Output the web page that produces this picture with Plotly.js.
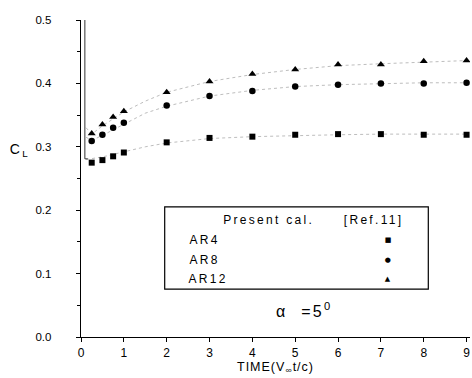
<!DOCTYPE html>
<html>
<head>
<meta charset="utf-8">
<script src="https://cdn.plot.ly/plotly-3.0.1.min.js"></script>
<style>
html,body{margin:0;padding:0;background:#fff;}
#plot .annotation-text{letter-spacing:2.3px;}
#plot .xtitle{letter-spacing:1px;}
</style>
</head>
<body>
<div id="plot" style="width:472px;height:378px;"></div>
<script>
// Reference data [Ref.11] (markers)
const refTime = [0.25, 0.5, 0.75, 1, 2, 3, 4, 5, 6, 7, 8, 9];
const refAR4  = [0.275, 0.279, 0.285, 0.291, 0.307, 0.314, 0.316, 0.319, 0.320, 0.320, 0.319, 0.319];
const refAR8  = [0.309, 0.319, 0.330, 0.338, 0.365, 0.380, 0.388, 0.395, 0.398, 0.400, 0.400, 0.401];
const refAR12 = [0.321, 0.335, 0.347, 0.356, 0.386, 0.403, 0.415, 0.422, 0.430, 0.430, 0.435, 0.436];

// Present calculation (faint dotted curves)
const calTime  = [0.12, 0.25, 0.5, 1, 1.5, 2, 3, 4, 5, 6, 7, 8, 9];
const calAR4   = [0.280, 0.281, 0.284, 0.292, 0.300, 0.306, 0.313, 0.316, 0.318, 0.319, 0.320, 0.320, 0.320];
const calAR8   = [0.315, 0.310, 0.318, 0.335, 0.353, 0.364, 0.380, 0.389, 0.395, 0.398, 0.400, 0.401, 0.401];
const calAR12  = [0.330, 0.320, 0.333, 0.355, 0.372, 0.386, 0.403, 0.414, 0.422, 0.428, 0.431, 0.434, 0.436];
// impulsive-start spike of the present calculation
const spikeTime = [0.09, 0.09, 0.16];
const spikeCL   = [0.5, 0.281, 0.281];

const yTicks = [0.0, 0.1, 0.2, 0.3, 0.4, 0.5];
const xTicks = [0, 1, 2, 3, 4, 5, 6, 7, 8, 9];

const L = 81, R = 470, T = 19.5, B = 337;
const px = v => (v - L) / (R - L);
const py = v => (B - v) / (B - T);

const calLine = {color: '#b5b5b5', width: 0.9, dash: 'dot'};
const traces = [
  {x: calTime, y: calAR4, mode: 'lines', line: calLine, hoverinfo: 'skip'},
  {x: calTime, y: calAR8, mode: 'lines', line: calLine, hoverinfo: 'skip'},
  {x: calTime, y: calAR12, mode: 'lines', line: calLine, hoverinfo: 'skip'},
  {x: spikeTime, y: spikeCL, mode: 'lines', line: {color: '#333', width: 1}, hoverinfo: 'skip'},
  {x: refTime, y: refAR4, mode: 'markers', marker: {symbol: 'square', size: 6, color: '#000'}},
  {x: refTime, y: refAR8, mode: 'markers', marker: {symbol: 'circle', size: 6.5, color: '#000'}},
  {x: refTime, y: refAR12, mode: 'markers', marker: {symbol: 'triangle-up', size: 7, color: '#000'}}
];

const font = {family: 'Liberation Sans, Arial, sans-serif', size: 12, color: '#000'};
const annotations = [
  {xref: 'paper', yref: 'paper', x: px(235), y: py(220), xanchor: 'left', yanchor: 'middle', text: 'Present cal.', showarrow: false, font: font},
  {xref: 'paper', yref: 'paper', x: px(351), y: py(220), xanchor: 'left', yanchor: 'middle', text: '[Ref.11]', showarrow: false, font: font},
  {xref: 'paper', yref: 'paper', x: px(191), y: py(240), xanchor: 'left', yanchor: 'middle', text: 'AR4', showarrow: false, font: font},
  {xref: 'paper', yref: 'paper', x: px(191), y: py(259.5), xanchor: 'left', yanchor: 'middle', text: 'AR8', showarrow: false, font: font},
  {xref: 'paper', yref: 'paper', x: px(191), y: py(278.5), xanchor: 'left', yanchor: 'middle', text: 'AR12', showarrow: false, font: font},
  {xref: 'paper', yref: 'paper', x: px(389), y: py(240), xanchor: 'center', yanchor: 'middle', text: '■', showarrow: false, font: {family: 'DejaVu Sans', size: 7, color: '#000'}},
  {xref: 'paper', yref: 'paper', x: px(389), y: py(259.5), xanchor: 'center', yanchor: 'middle', text: '●', showarrow: false, font: {family: 'DejaVu Sans', size: 7, color: '#000'}},
  {xref: 'paper', yref: 'paper', x: px(389), y: py(278.5), xanchor: 'center', yanchor: 'middle', text: '▲', showarrow: false, font: {family: 'DejaVu Sans', size: 7, color: '#000'}},
  {xref: 'paper', yref: 'paper', x: px(304), y: py(310), xanchor: 'center', yanchor: 'middle', text: 'α  =5<sup>0</sup>', showarrow: false, font: {family: 'Liberation Sans, Arial, sans-serif', size: 16, color: '#000'}},
  {xref: 'paper', yref: 'paper', x: px(20), y: py(150), xanchor: 'center', yanchor: 'middle', text: 'C<sub>L</sub>', showarrow: false, font: {family: 'Liberation Sans, Arial, sans-serif', size: 14, color: '#000'}}
];

const layout = {
  width: 472, height: 378,
  margin: {l: L, r: 472 - R, t: T, b: 378 - B, pad: 0},
  paper_bgcolor: '#fff', plot_bgcolor: '#fff',
  showlegend: false,
  font: font,
  xaxis: {
    range: [0, 9.08], tickvals: xTicks, ticktext: xTicks.map(String),
    showline: true, linecolor: '#000', linewidth: 1.3, mirror: false,
    ticks: 'outside', ticklen: 4, tickwidth: 1, tickcolor: '#000',
    showgrid: false, zeroline: false,
    tickfont: {family: 'Liberation Sans, Arial, sans-serif', size: 12, color: '#000'},
    title: {text: 'TIME(V<sub>∞</sub>t/c)', standoff: 3, font: {family: 'Liberation Sans, Arial, sans-serif', size: 12.5, color: '#000'}}
  },
  yaxis: {
    range: [0, 0.5], tickvals: yTicks, ticktext: yTicks.map(v => v.toFixed(1)),
    showline: true, linecolor: '#000', linewidth: 1.3,
    ticks: 'outside', ticklen: 4, tickwidth: 1, tickcolor: '#000',
    minor: {dtick: 0.05, tick0: 0, ticks: 'outside', ticklen: 3, tickcolor: '#000', showgrid: false},
    showgrid: false, zeroline: false,
    ticklabelstandoff: 22,
    tickfont: {family: 'Liberation Sans, Arial, sans-serif', size: 11.5, color: '#000'}
  },
  shapes: [
    {type: 'rect', xref: 'paper', yref: 'paper', x0: px(164.7), x1: px(428.3), y0: py(289), y1: py(206.7), line: {color: '#000', width: 1.2}, fillcolor: 'rgba(0,0,0,0)'}
  ],
  annotations: annotations
};

Plotly.newPlot('plot', traces, layout, {staticPlot: true, displayModeBar: false});
</script>
</body>
</html>
